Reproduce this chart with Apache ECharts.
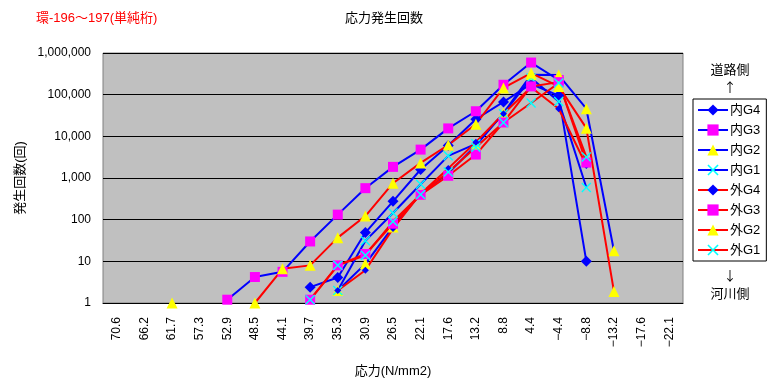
<!DOCTYPE html>
<html>
<head>
<meta charset="utf-8">
<script src="https://cdn.jsdelivr.net/npm/echarts@6/dist/echarts.min.js"></script>
<style>
  html, body { margin: 0; padding: 0; background: #fff; }
  #chart { width: 778px; height: 383px; }
</style>
</head>
<body>
<div id="chart"></div>
<script>
// Stress ranges (N/mm2), high to low
const categories = ['70.6','66.2','61.7','57.3','52.9','48.5','44.1','39.7','35.3','30.9','26.5','22.1','17.6','13.2','8.8','4.4','\u22124.4','\u22128.8','\u221213.2','\u221217.6','\u221222.1'];
const yTicks = [1, 10, 100, 1000, 10000, 100000, 1000000];
const n = null;

// Occurrence counts per girder (内 = inner, 外 = outer)
const inG4  = [n,n,n,n,n,n,n,2.4,4.1,49,275,1600,6000,25700,67000,180000,95000,10,n,n,n];
const inG3  = [n,n,n,n,1.2,4.2,5.6,30,132,570,1850,4800,15500,40000,173000,590000,225000,n,n,n,n];
const inG2  = [n,n,n,n,n,n,n,n,2,8.7,67,420,1300,6000,36000,300000,295000,46000,18,n,n];
const inG1  = [n,n,n,n,n,n,n,n,2,31,145,710,3400,6600,35000,250000,69000,590,n,n,n];
const outG4 = [n,n,n,n,n,n,n,n,2,6.1,61,420,1700,7200,35000,150000,46000,2000,n,n,n];
const outG3 = [n,n,n,n,n,n,n,1.2,8,15,80,395,1130,3650,21500,158000,200000,2340,n,n,n];
const outG2 = [n,n,1,n,n,1,6.6,8,37,122,750,2300,6200,19500,145000,330000,158000,15700,1.9,n,n];
const outG1 = [n,n,n,n,n,n,n,1.2,8,14,90,400,1400,5500,21500,63000,190000,3200,n,n,n];

const FONT = '"Liberation Sans", Arial, "Noto Sans CJK JP", sans-serif';
const CJK = '"Noto Sans CJK JP", sans-serif';
const BLUE = '#0000FF', RED = '#FF0000';
const CROSS = 'path://M0,1L1,0L5,4L9,0L10,1L6,5L10,9L9,10L5,6L1,10L0,9L4,5Z';

function mk(name, data, lineColor, symbol, size, fill) {
  return {
    name, type: 'line', data,
    symbol, symbolSize: size,
    showSymbol: true,
    lineStyle: { color: lineColor, width: 2 },
    itemStyle: { color: fill, borderWidth: 0 },
    emphasis: { disabled: true },
    animation: false
  };
}

const series = [
  mk('内G4', inG4, BLUE, 'diamond', 11, BLUE),
  mk('内G3', inG3, BLUE, 'rect', 10, '#FF00FF'),
  mk('内G2', inG2, BLUE, 'triangle', 11, '#FFFF00'),
  mk('内G1', inG1, BLUE, CROSS, 10, '#00FFFF'),
  mk('外G4', outG4, RED, 'diamond', 7, BLUE),
  mk('外G3', outG3, RED, 'rect', 10, '#FF00FF'),
  mk('外G2', outG2, RED, 'triangle', 11, '#FFFF00'),
  mk('外G1', outG1, RED, CROSS, 10, '#00FFFF')
];

function note(text, y, font) {
  return { type: 'text', style: { text, x: 730, y, fontSize: 13, fontFamily: font, fill: '#000', align: 'center', verticalAlign: 'middle' } };
}

const chart = echarts.init(document.getElementById('chart'), null, { renderer: 'canvas' });
chart.setOption({
  animation: false,
  backgroundColor: '#FFFFFF',
  textStyle: { fontFamily: FONT },
  title: [
    { text: '応力発生回数', left: 340, top: 7, textStyle: { fontSize: 13, fontWeight: 'normal', color: '#000', fontFamily: FONT } },
    { text: '環-196～197(単純桁)', left: 31, top: 7, textStyle: { fontSize: 13, fontWeight: 'normal', color: '#FF0000', fontFamily: FONT } }
  ],
  grid: {
    left: 103, right: 95, top: 53, bottom: 76,
    show: true, backgroundColor: '#C0C0C0', borderColor: '#808080', borderWidth: 1
  },
  legend: {
    orient: 'vertical', left: 693, top: 99,
    itemWidth: 30, itemHeight: 14, itemGap: 6,
    padding: [4, 6, 4, 4],
    borderColor: '#000', borderWidth: 1, backgroundColor: '#FFFFFF',
    textStyle: { fontSize: 13, lineHeight: 14, color: '#000', fontFamily: FONT, padding: [0, 0, 0, -3] },
    data: series.map(s => s.name)
  },
  xAxis: {
    type: 'category', data: categories, boundaryGap: true,
    name: '応力(N/mm2)', nameLocation: 'middle', nameGap: 62,
    nameTextStyle: { fontSize: 13, color: '#000', fontFamily: FONT },
    axisLine: { lineStyle: { color: '#000', width: 1 } },
    axisTick: { inside: true, length: 5, lineStyle: { color: '#000' } },
    axisLabel: { rotate: 90, margin: 14, fontSize: 12, color: '#000', fontFamily: FONT },
    splitLine: { show: false }
  },
  yAxis: {
    type: 'log', logBase: 10, min: yTicks[0], max: yTicks[yTicks.length - 1],
    name: '発生回数(回)', nameLocation: 'middle', nameGap: 76, nameRotate: 90,
    nameTextStyle: { fontSize: 13, color: '#000', fontFamily: FONT },
    axisLine: { show: false },
    axisTick: { show: false },
    axisLabel: {
      margin: 12, fontSize: 12, color: '#000', fontFamily: FONT,
      formatter: v => Math.round(v).toLocaleString('en-US')
    },
    splitLine: { lineStyle: { color: '#000', width: 1 } }
  },
  graphic: [
    note('道路側', 70, FONT),
    note('↑', 87, CJK),
    note('↓', 275, CJK),
    note('河川側', 294, FONT)
  ],
  series
});
</script>
</body>
</html>
